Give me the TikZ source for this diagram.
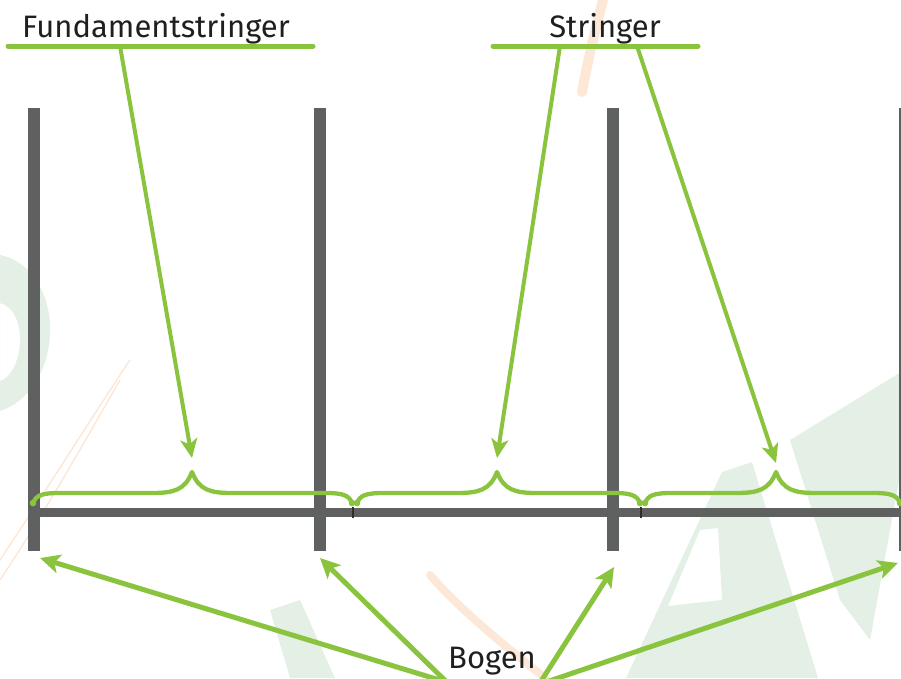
\documentclass[tikz,border=0pt]{standalone}
\usepackage{fontspec}
\setmainfont{Fira Sans}
\usetikzlibrary{arrows.meta}
\definecolor{lgreen}{RGB}{138,196,62}
\definecolor{postgray}{RGB}{95,96,96}
\definecolor{tickgray}{RGB}{45,45,45}
\definecolor{wmgreen}{RGB}{228,240,229}
\definecolor{wmorange}{RGB}{253,232,216}
\tikzset{
  post/.style={draw=none,fill=postgray},
  uline/.style={draw=lgreen,line width=5pt,line cap=round},
  pointer/.style={draw=lgreen,line width=4pt,line cap=round,-{Stealth[length=19pt,width=17pt,inset=5pt]}},
  bogenarrow/.style={draw=lgreen,line width=5pt,-{Stealth[length=20pt,width=19pt,inset=5pt]}},
  bracestyle/.style={draw=lgreen,line width=4.3pt,line cap=round,line join=round},
  label/.style={font=\fontsize{31}{36}\selectfont,text=black!88,inner sep=0pt,anchor=base},
  wmg/.style={fill=wmgreen,draw=none},
  wmo/.style={draw=wmorange,line cap=round}
}
\newcommand\mybrace[4]{%
  \draw[bracestyle] (#1,504) .. controls (#1+2,495) and (#1+10,493) .. (#1+26,493)
    -- (#2-40,493) .. controls (#2-18,493) and (#2-7,490) .. (#2,#4)
    .. controls (#2+7,490) and (#2+18,493) .. (#2+40,493)
    -- (#3-26,493) .. controls (#3-10,493) and (#3-2,495) .. (#3,504);
  \fill[lgreen] (#1,503) circle (3.3pt);
  \fill[lgreen] (#3,503) circle (3.3pt);
}
\begin{document}
\begin{tikzpicture}[x=1pt,y=-1pt]
\useasboundingbox (0,0) rectangle (901,678);
\clip (0,0) rectangle (901,678);
% faint watermark
\fill[wmg,even odd rule] (0,255) .. controls (35,262) and (52,300) .. (50,335) .. controls (48,372) and (28,402) .. (0,411) -- cycle
  (0,303) .. controls (14,306) and (21,325) .. (20,342) .. controls (19,360) and (12,377) .. (0,381) -- cycle;
\fill[wmg,even odd rule] (626,678) -- (722,472) -- (752,462) -- (818,678) -- cycle
  (668,606) -- (700,530) -- (718,528) -- (722,600) -- cycle;
\fill[wmg] (790,440) -- (901,372) -- (901,470) -- (870,640) -- (840,600) -- cycle;
\fill[wmg] (270,610) -- (300,600) -- (335,678) -- (290,678) -- cycle;
\draw[wmo,line width=10pt] (603,0) .. controls (595,30) and (588,60) .. (582,92);
\draw[wmo,line width=8pt] (430,575) .. controls (460,610) and (510,650) .. (545,678);
\draw[wmo,line width=1.5pt] (0,560) .. controls (40,500) and (90,420) .. (130,360);
\draw[wmo,line width=1.5pt] (0,580) .. controls (40,520) and (80,450) .. (120,380);
% posts and beam
\fill[post] (28,508) rectangle (901,517);
\fill[post] (28,108) rectangle (40,551);
\fill[post] (314,108) rectangle (326,551);
\fill[post] (607,108) rectangle (619,551);
\fill[post] (899,108) rectangle (911,551);
\draw[tickgray,line width=1.3pt] (353,507) -- (353,518);
\draw[tickgray,line width=1.3pt] (641,507) -- (641,518);
% braces
\mybrace{33}{192}{352}{472}
\mybrace{357}{497}{640}{472}
\mybrace{645}{776}{900}{472}
% labels
\node[label] (fund) at (156,37) {Fundamentstringer};
\node[label] (str) at (605,37) {Stringer};
\node[label] (bog) at (492,668) {Bogen};
% underlines
\coordinate (fl) at (8,46); \coordinate (fr) at (313,46);
\coordinate (sl) at (493,46); \coordinate (sr) at (698,46);
\draw[uline] (fl) -- (fr);
\draw[uline] (sl) -- (sr);
% pointer arrows
\coordinate (f0) at (120,46); \coordinate (f1) at (192,458);
\coordinate (s0) at (560,46); \coordinate (s1) at (497,458);
\coordinate (t0) at (637,46); \coordinate (t1) at (776,463);
\draw[pointer] (f0) -- (f1);
\draw[pointer] (s0) -- (s1);
\draw[pointer] (t0) -- (t1);
% Bogen arrows
\coordinate (b1s) at (505,700); \coordinate (b1) at (40,558);
\coordinate (b2s) at (465,700); \coordinate (b2) at (320,558);
\coordinate (b3s) at (529,700); \coordinate (b3) at (614,567);
\coordinate (b4s) at (493,700); \coordinate (b4) at (898,563);
\draw[bogenarrow] (b1s) -- (b1);
\draw[bogenarrow] (b2s) -- (b2);
\draw[bogenarrow] (b3s) -- (b3);
\draw[bogenarrow] (b4s) -- (b4);
\end{tikzpicture}
\end{document}
